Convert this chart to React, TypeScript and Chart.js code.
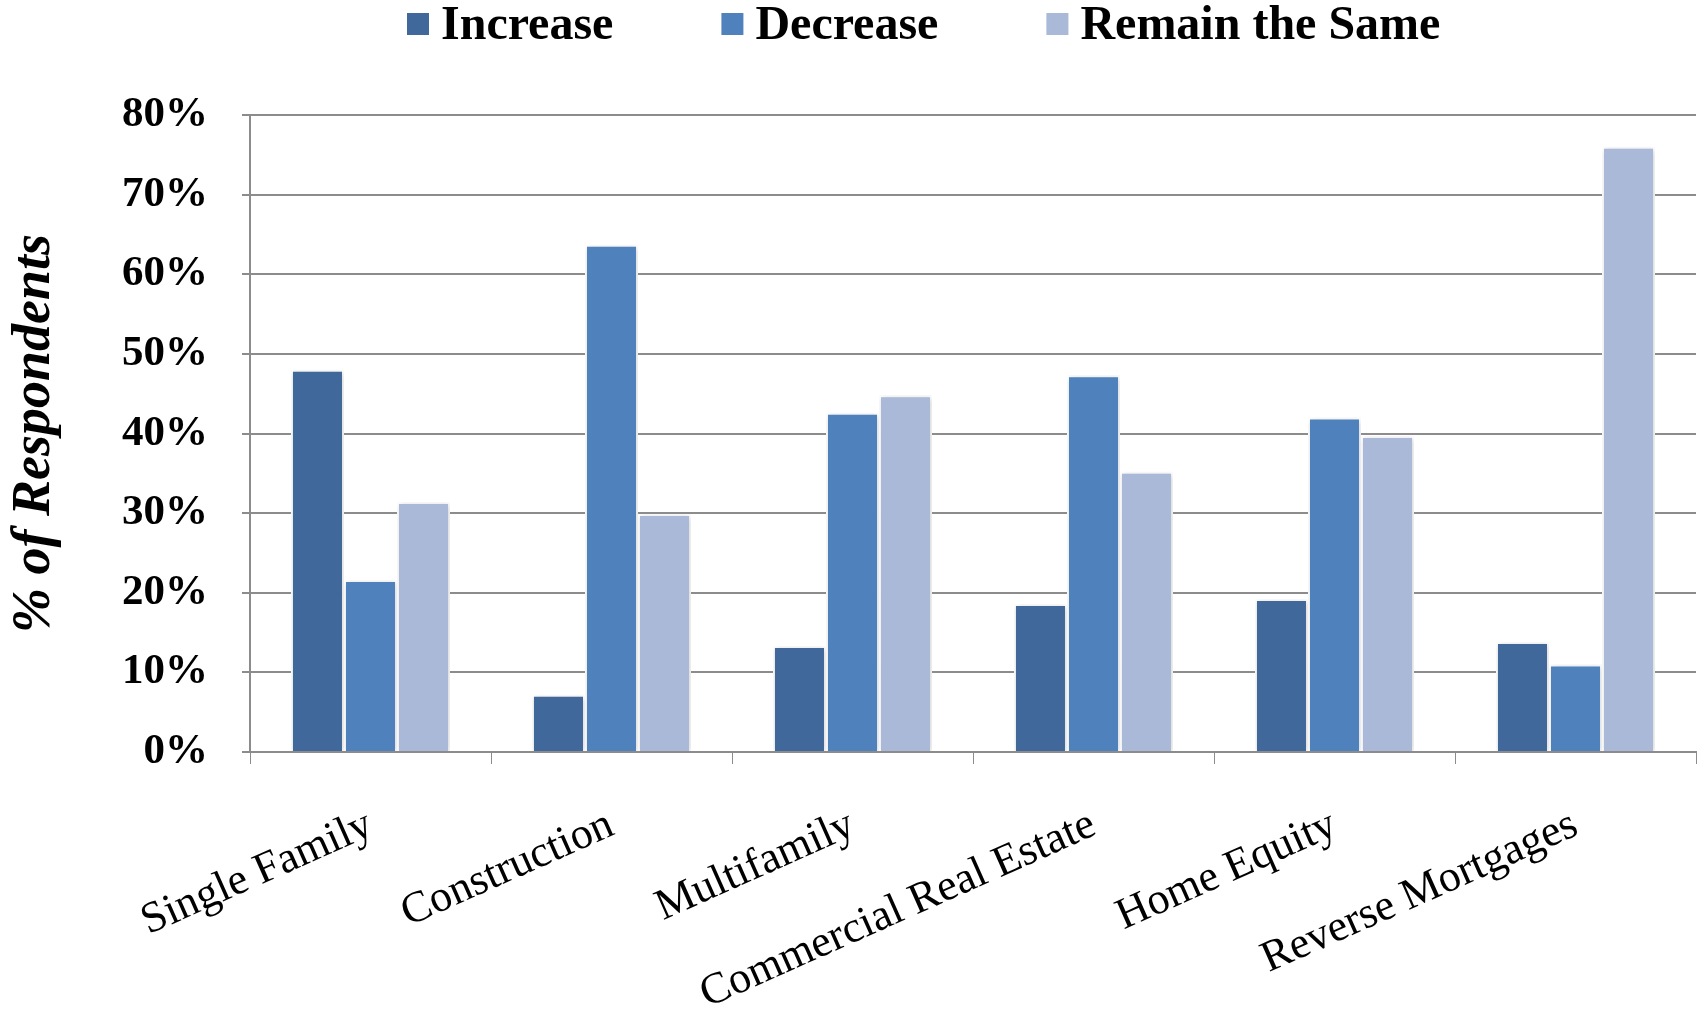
import React, { useEffect, useRef } from "react";
import { Chart, registerables } from "chart.js";

Chart.register(...registerables);

const categories = [
  "Single Family",
  "Construction",
  "Multifamily",
  "Commercial Real Estate",
  "Home Equity",
  "Reverse Mortgages",
];
const seriesNames = ["Increase", "Decrease", "Remain the Same"];
const increaseValues = [48.0, 7.2, 13.3, 18.6, 19.2, 13.8];
const decreaseValues = [21.6, 63.7, 42.6, 47.3, 42.0, 11.0];
const remainValues = [31.4, 29.9, 44.8, 35.2, 39.7, 76.0];
const yTicks = [0, 10, 20, 30, 40, 50, 60, 70, 80];
const yTitle = "% of Respondents";

const colors = ["#41689A", "#4F81BD", "#AAB9D7"];
const SERIF = "'Liberation Serif', 'Times New Roman', serif";

const W = 1699;
const H = 1015;
const AREA_LEFT = 250;
const AREA_TOP = 115;
const AREA_BOTTOM = 752;
const AREA_RIGHT = 1696;

const legendPlugin = {
  id: "customLegend",
  afterDraw(chart: any) {
    const ctx = chart.ctx;
    ctx.save();
    ctx.font = `bold 48px ${SERIF}`;
    ctx.textBaseline = "alphabetic";
    ctx.textAlign = "left";
    let x = 407;
    chart.data.datasets.forEach((ds: any) => {
      ctx.fillStyle = ds.backgroundColor;
      ctx.fillRect(x, 13, 22, 22);
      x += 22 + 12;
      ctx.fillStyle = "#000";
      ctx.fillText(ds.label, x, 39);
      x += ctx.measureText(ds.label).width + 108;
    });
    ctx.restore();
  },
};

const shadowPlugin = {
  id: "barShadow",
  beforeDatasetsDraw(chart: any) {
    const ctx = chart.ctx;
    ctx.save();
    ctx.shadowColor = "rgba(0,0,0,0.18)";
    ctx.shadowBlur = 6;
    ctx.shadowOffsetX = 1;
    ctx.shadowOffsetY = 1;
  },
  afterDatasetsDraw(chart: any) {
    chart.ctx.restore();
  },
};

export default function App() {
  const ref = useRef<HTMLCanvasElement | null>(null);

  useEffect(() => {
    if (!ref.current) return;
    const values = [increaseValues, decreaseValues, remainValues];
    const chart = new Chart(ref.current, {
      type: "bar",
      data: {
        labels: categories,
        datasets: seriesNames.map((name, i) => ({
          label: name,
          data: values[i],
          backgroundColor: colors[i],
          borderColor: "#FFFFFF",
          borderWidth: 2,
          categoryPercentage: 0.66,
          barPercentage: 1.0,
        })),
      },
      options: {
        responsive: false,
        animation: false,
        devicePixelRatio: 1,
        layout: {
          padding: { top: AREA_TOP, left: 0, right: W - AREA_RIGHT, bottom: 0 },
        },
        plugins: {
          legend: { display: false },
          tooltip: { enabled: false },
        },
        scales: {
          x: {
            grid: {
              display: true,
              drawOnChartArea: false,
              drawTicks: true,
              tickLength: 12,
              color: "#8C8C8C",
              lineWidth: 1,
              offset: true,
            },
            border: { color: "#8C8C8C", width: 2 },
            ticks: {
              font: { family: SERIF, size: 44 },
              color: "#000",
              minRotation: 24,
              maxRotation: 24,
              padding: 35,
              autoSkip: false,
            },
            afterFit(scale: any) {
              scale.height = H - AREA_BOTTOM;
            },
          },
          y: {
            min: 0,
            max: 80,
            afterBuildTicks(scale: any) {
              scale.ticks = yTicks.map((v) => ({ value: v }));
            },
            grid: {
              color: "#8C8C8C",
              lineWidth: 2,
              tickLength: 8,
            },
            border: { color: "#8C8C8C", width: 2 },
            ticks: {
              font: { family: SERIF, size: 43, weight: "bold" },
              color: "#000",
              padding: 34,
              callback: (v: any) => `${v}%`,
            },
            title: {
              display: true,
              text: yTitle,
              font: { family: SERIF, size: 54, weight: "bold", style: "italic" },
              color: "#000",
              padding: { top: 3, bottom: 0 },
            },
            afterFit(scale: any) {
              scale.width = AREA_LEFT;
            },
          },
        },
      },
      plugins: [legendPlugin, shadowPlugin],
    });
    return () => chart.destroy();
  }, []);

  return (
    <div style={{ position: "absolute", left: 0, top: 0, width: W, height: H, background: "#fff" }}>
      <canvas ref={ref} width={W} height={H} style={{ width: W, height: H, display: "block" }} />
    </div>
  );
}
